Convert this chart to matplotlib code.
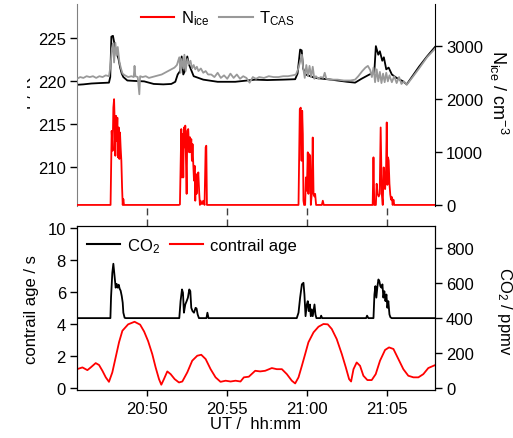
import numpy as np
import matplotlib
matplotlib.use("Agg")
import matplotlib.pyplot as plt
from matplotlib.ticker import FuncFormatter
from matplotlib.transforms import Bbox, TransformedBbox
from matplotlib.lines import Line2D

plt.rcParams['font.family'] = ['Liberation Sans', 'DejaVu Sans']
plt.rcParams['mathtext.fontset'] = 'custom'
plt.rcParams['mathtext.rm'] = 'Liberation Sans'
plt.rcParams['mathtext.it'] = 'Liberation Sans:italic'
plt.rcParams['font.size'] = 12

# time in minutes after 20:00 UT
x_ticks = [50, 55, 60, 65]
x_range = (45.6, 68.0)

# temperature (black, not in legend)
t_temp = [45.6, 46.0, 46.5, 47.0, 47.6, 47.68, 47.75, 47.85, 47.9, 48.0, 48.1, 48.2, 48.3, 48.4,
          48.5, 48.75, 49.2, 49.8, 50.4, 51.0, 51.5, 51.75, 51.9, 52.05, 52.15, 52.25, 52.35,
          52.5, 52.6, 52.9, 53.5, 54.4, 55.5, 56.75, 57.5, 58.5, 59.25, 59.4, 59.56, 59.66,
          59.75, 59.9, 60.5, 61.5, 62.5, 63.0, 63.4, 63.9, 64.2, 64.3, 64.45, 64.55, 64.7,
          64.8, 64.95, 65.1, 65.3, 65.6, 66.0, 66.23, 67.0, 67.5, 68.0]
temp = [219.6, 219.65, 219.75, 219.8, 219.85, 220.5, 225.2, 225.3, 224.8, 223.8, 223.2, 222.6,
        221.6, 220.9, 220.5, 220.1, 220.05, 220.0, 219.7, 219.65, 219.7, 219.95, 220.8, 221.2,
        222.9, 220.8, 221.2, 222.9, 222.0, 220.6, 220.2, 219.95, 219.95, 220.2, 220.15, 220.2,
        220.25, 220.9, 223.7, 223.6, 221.5, 220.8, 220.4, 220.2, 219.95, 219.85, 220.3, 220.8,
        221.0, 224.1, 223.1, 223.5, 222.4, 222.8, 221.4, 221.6, 220.8, 220.4, 220.0, 219.65,
        221.7, 222.9, 224.0]

# T_CAS (gray)
t_cas = [45.6, 45.8, 46.0, 46.2, 46.4, 46.6, 46.8, 47.0, 47.2, 47.4, 47.6, 47.7, 47.78, 47.85,
         47.92, 48.0, 48.08, 48.15, 48.25, 48.35, 48.45, 48.6, 48.8, 49.0, 49.15, 49.2, 49.25,
         49.4, 49.5, 49.55, 49.7, 49.9, 50.1, 50.3, 50.5, 50.7, 50.9, 51.1, 51.3, 51.5, 51.7,
         51.85, 52.0, 52.08, 52.15, 52.25, 52.32, 52.4, 52.5, 52.6, 52.7, 52.8, 52.9, 53.0,
         53.1, 53.2, 53.35, 53.5, 53.65, 53.8, 54.0, 54.2, 54.4, 54.6, 54.8, 55.0, 55.2, 55.4,
         55.6, 55.8, 56.0, 56.2, 56.4, 56.6, 56.8, 57.0, 57.3, 57.6, 57.9, 58.2, 58.5, 58.8,
         59.1, 59.3, 59.45, 59.6, 59.67, 59.75, 59.85, 59.95, 60.05, 60.15, 60.25, 60.35,
         60.45, 60.55, 60.7, 60.85, 61.0, 61.1, 61.2, 61.5, 61.9, 62.3, 62.7, 63.0, 63.2,
         63.45, 63.65, 63.8, 63.95, 64.05, 64.15, 64.25, 64.35, 64.45, 64.55, 64.65, 64.75,
         64.85, 64.95, 65.05, 65.15, 65.3, 65.45, 65.6, 65.75, 65.9, 66.05, 66.23, 66.6, 67.0,
         67.5, 68.0]
cas = [220.3, 220.5, 220.4, 220.6, 220.5, 220.6, 220.4, 220.6, 220.5, 220.7, 220.6, 221.8,
       223.8, 224.4, 222.2, 224.5, 223.0, 224.0, 222.3, 221.5, 220.9, 220.7, 220.5, 220.6,
       220.5, 221.8, 220.6, 220.5, 218.5, 220.6, 220.5, 220.6, 220.4, 220.5, 220.6, 220.7,
       220.8, 221.0, 221.2, 221.4, 221.6, 221.9, 222.8, 221.0, 222.6, 221.5, 223.1, 221.2,
       222.6, 222.0, 222.4, 221.5, 221.9, 221.4, 221.7, 221.2, 221.5, 221.0, 221.2, 220.8,
       220.8, 220.5, 221.0, 220.4, 220.7, 220.3, 220.9, 220.4, 220.8, 220.3, 220.6, 220.4,
       219.85, 220.5, 220.3, 220.5, 220.4, 220.6, 220.5, 220.5, 220.6, 220.6, 220.7, 220.8,
       221.5, 222.6, 223.1, 221.6, 220.4, 221.9, 220.6, 221.8, 220.5, 221.7, 220.3, 220.6,
       220.3, 220.5, 220.4, 221.0, 220.3, 220.2, 220.2, 220.1, 220.1, 220.2, 220.6, 221.2,
       221.6, 221.8, 221.3, 220.5, 221.6, 219.9, 221.4, 220.0, 221.1, 219.8, 220.9, 219.9,
       221.0, 220.0, 220.7, 219.9, 220.6, 219.8, 220.5, 219.7, 220.0, 219.6, 220.5, 221.5,
       222.8, 223.8]

# N_ice / cm^-3 (red)
t_nice = [45.6, 47.7, 47.77, 47.83, 47.875, 47.92, 47.96, 48.0, 48.04, 48.08, 48.125, 48.17,
          48.21, 48.25, 48.29, 48.33, 48.375, 48.42, 48.46, 48.5, 48.54,
          51.98, 52.04, 52.125, 52.17, 52.21, 52.25, 52.29, 52.33, 52.375, 52.42, 52.46, 52.5,
          52.56, 52.625, 52.67, 52.71, 52.75, 52.79, 52.83, 52.875, 52.92, 52.96, 53.0, 53.04,
          53.08, 53.125, 53.19, 53.25, 53.29, 53.33, 53.42, 53.5, 53.58, 53.65, 53.69, 53.73,
          59.46, 59.54, 59.6, 59.65, 59.69, 59.73, 59.77, 59.81, 59.875, 59.92, 59.98, 60.04,
          60.08, 60.125, 60.19, 60.23, 60.29, 60.35, 60.4, 60.46, 60.5, 60.56, 60.92, 60.98,
          61.04,
          64.1, 64.15, 64.2, 64.3, 64.35, 64.41, 64.48, 64.54, 64.6, 64.67, 64.73, 64.79, 64.83,
          64.88, 64.94, 64.98, 65.02, 65.06, 65.1, 65.15, 65.2, 65.25, 65.3, 65.35, 65.4,
          65.45, 68.0]
nice = [0, 0, 1400, 1025, 1840, 2000, 1530, 930, 1685, 1210, 1650, 900,
        1465, 870, 1370, 1090, 835, 335, 0, 110, 0,
        0, 10, 1435, 520, 1340, 520, 1465, 1090, 1500, 835, 210, 1400,
        1435, 995, 1280, 1000, 1245, 835, 1150, 775, 460, 740, 80, 585,
        210, 400, 615, 210, 0, 80, 15, 80, 0, 1090, 1120, 0,
        0, 1810, 1840, 835, 1780, 1340, 80, 0, 0, 520, 270, 995,
        210, 960, 930, 0, 210, 1275, 210, 160, 210, 0, 0, 80,
        0,
        0, 900, 0, 0, 400, 210, 160, 210, 1465, 210, 0, 710, 335,
        300, 700, 1560, 380, 900, 840, 400, 200, 100, 150, 0, 100,
        0, 0]

# CO2 / ppmv (black, bottom panel)
t_co2 = [45.6, 47.69, 47.73, 47.81, 47.875, 47.96, 48.02, 48.08, 48.15, 48.21, 48.27, 48.33,
         48.4, 48.46, 48.5, 48.58, 48.65,
         52.0, 52.08, 52.17, 52.23, 52.29, 52.375, 52.46, 52.54, 52.625, 52.69, 52.75, 52.83,
         52.92, 53.02, 53.08, 53.15, 53.23, 53.7, 53.76, 53.83,
         59.35, 59.46, 59.56, 59.67, 59.77, 59.83, 59.9, 59.98, 60.04, 60.1, 60.17, 60.23,
         60.29, 60.35, 60.46, 60.52, 60.58, 60.83, 60.875, 60.94,
         63.69, 63.75, 63.83, 64.15, 64.21, 64.27, 64.33, 64.4, 64.46, 64.52, 64.58, 64.65,
         64.71, 64.77, 64.83, 64.9, 64.96, 65.02, 65.08, 65.15, 65.21, 65.29, 68.0]
co2 = [400, 400, 520, 659, 711, 631, 574, 596, 574, 591, 568, 557,
       526, 488, 431, 402, 400,
       400, 497, 564, 545, 431, 478, 497, 517, 564, 554, 459, 440,
       431, 459, 455, 421, 400, 400, 431, 400,
       400, 431, 517, 593, 602, 535, 411, 478, 497, 440, 478, 411,
       450, 411, 478, 421, 400, 400, 414, 400,
       400, 414, 400, 400, 535, 583, 517, 583, 621, 611, 583, 574,
       593, 517, 554, 497, 535, 459, 497, 421, 405, 400, 400]

# contrail age / s (red, bottom panel)
t_age = [45.6, 45.94, 46.25, 46.46, 46.77, 46.98, 47.19, 47.4, 47.6, 47.81, 48.02, 48.23, 48.44,
         48.8, 49.2, 49.55, 49.8, 50.05, 50.31, 50.52, 50.73, 50.875, 51.04, 51.25, 51.46,
         51.71, 51.98, 52.19, 52.5, 52.81, 53.125, 53.375, 53.65, 53.96, 54.27, 54.58, 54.9,
         55.21, 55.52, 55.83, 56.04, 56.35, 56.75, 57.06, 57.375, 57.79, 58.1, 58.42, 58.73,
         59.04, 59.25, 59.46, 59.67, 59.875, 60.08, 60.4, 60.71, 61.02, 61.29, 61.54, 61.85,
         62.17, 62.42, 62.625, 62.75, 62.9, 63.1, 63.31, 63.52, 63.77, 64.04, 64.29, 64.56,
         64.875, 65.125, 65.4, 65.71, 66.02, 66.33, 66.65, 66.96, 67.27, 67.58, 67.9, 68.0]
age = [1.2, 1.31, 1.14, 1.31, 1.58, 1.46, 1.1, 0.69, 0.41, 1.0, 1.94, 2.88, 3.6,
       4.0, 4.16, 3.98, 3.55, 2.95, 2.14, 1.31, 0.58, 0.23, 0.58, 1.06, 0.89,
       0.58, 0.37, 0.43, 1.0, 1.73, 2.04, 2.1, 1.83, 1.2, 0.69, 0.41, 0.48,
       0.43, 0.48, 0.43, 0.69, 0.73, 1.1, 1.06, 1.1, 1.27, 1.2, 1.2, 0.89,
       0.48, 0.31, 0.69, 1.41, 2.14, 2.88, 3.5, 3.85, 4.02, 4.0, 3.71, 3.08,
       2.14, 1.31, 0.58, 0.43, 1.2, 1.62, 1.41, 0.79, 0.52, 0.52, 0.89, 1.73,
       2.4, 2.56, 2.46, 1.83, 1.2, 0.79, 0.69, 0.69, 0.89, 1.27, 1.41, 1.45]


def hhmm(v, pos):
    h = 20 + int(v) // 60
    m = int(round(v)) % 60
    return f"{h}:{m:02d}"


fig = plt.figure(figsize=(5.13, 4.39), dpi=100)
W, H = 513, 439

# ---- top panel: temperature + N_ice ----
axT = fig.add_axes([77 / W, 1 - 207 / H, 358 / W, 202 / H])
axN = axT.twinx()

axT.plot(t_temp, temp, color='black', lw=1.3, zorder=2)
axT.plot(t_cas, cas, color='#999999', lw=1.3, zorder=3)
axN.plot(t_nice, nice, color='#ff0000', lw=1.3)

axT.set_xlim(*x_range)
axT.set_ylim(205.5, 229)
axT.set_yticks([210, 215, 220, 225])
axN.set_ylim(-20, 3800)
axN.set_yticks([0, 1000, 2000, 3000])
axT.set_xticks([])

for s in ['top', 'bottom', 'right']:
    axT.spines[s].set_visible(False)
for s in ['top', 'bottom', 'left']:
    axN.spines[s].set_visible(False)
axT.spines['left'].set_color('#808080')
axT.tick_params(axis='y', direction='out', length=5, width=1, pad=3, labelsize=12)
axN.tick_params(axis='y', direction='out', length=5, width=1, pad=3, labelsize=12)

axT.set_ylabel("T / K", fontsize=12)
axT.yaxis.set_label_coords(-0.12, 0.555)
# the reference only shows a sliver of this label
clip = TransformedBbox(Bbox([[27 / W, 0], [1, 1]]), fig.transFigure)
axT.yaxis.label.set_clip_box(clip)
axT.yaxis.label.set_clip_on(True)

axN.set_ylabel(r"$\mathrm{N_{ice}}$ / cm$^{-3}$", rotation=270, fontsize=13)
axN.yaxis.set_label_coords(1.21, 0.565)

h_top = [Line2D([], [], color='#ff0000', lw=1.5), Line2D([], [], color='#999999', lw=1.5)]
axN.legend(h_top, [r"$\mathrm{N_{ice}}$", r"$\mathrm{T_{CAS}}$"], loc='upper left',
           bbox_to_anchor=(0.16, 1.01), ncol=2, frameon=False, fontsize=12,
           handlelength=2.0, handletextpad=0.4, columnspacing=0.6, borderaxespad=0)

# ---- dashed connectors between panels ----
axM = fig.add_axes([77 / W, 1 - 227 / H, 358 / W, 20 / H])
axM.set_xlim(*x_range)
axM.set_ylim(0, 1)
axM.vlines(x_ticks, 0, 1, colors='#404040', linestyles=(0, (5, 3)), lw=1)
axM.axis('off')

# ---- bottom panel: contrail age + CO2 ----
axA = fig.add_axes([77 / W, 1 - 391 / H, 358 / W, 163.7 / H])
axC = axA.twinx()

axA.plot(t_age, age, color='#ff0000', lw=1.3)
axC.plot(t_co2, co2, color='black', lw=1.3)

axA.set_xlim(*x_range)
axA.set_xticks(x_ticks)
axA.xaxis.set_major_formatter(FuncFormatter(hhmm))
axA.set_ylim(-0.1, 10.12)
axA.set_yticks([0, 2, 4, 6, 8, 10])
axC.set_ylim(-11, 925)
axC.set_yticks([0, 200, 400, 600, 800])

axA.tick_params(axis='both', direction='out', length=5, width=1, pad=3, labelsize=12)
axA.tick_params(axis='x', length=4, pad=4)
axC.tick_params(axis='y', direction='out', length=5, width=1, pad=3, labelsize=12)

axA.set_ylabel("contrail age / s", fontsize=12)
axA.yaxis.set_label_coords(-0.107, 0.5)
axC.set_ylabel(r"CO$_2$ / ppmv", rotation=270, fontsize=12)
axC.yaxis.set_label_coords(1.22, 0.49)
axA.set_xlabel("UT /  hh:mm", fontsize=12, labelpad=0)

h_bot = [Line2D([], [], color='black', lw=1.5), Line2D([], [], color='#ff0000', lw=1.5)]
axC.legend(h_bot, [r"CO$_2$", "contrail age"], loc='upper left',
           bbox_to_anchor=(0.0, 1.0), ncol=2, frameon=False, fontsize=12,
           handlelength=2.0, handletextpad=0.4, columnspacing=0.6, borderaxespad=0.2)

plt.savefig("out.png", dpi=100)
